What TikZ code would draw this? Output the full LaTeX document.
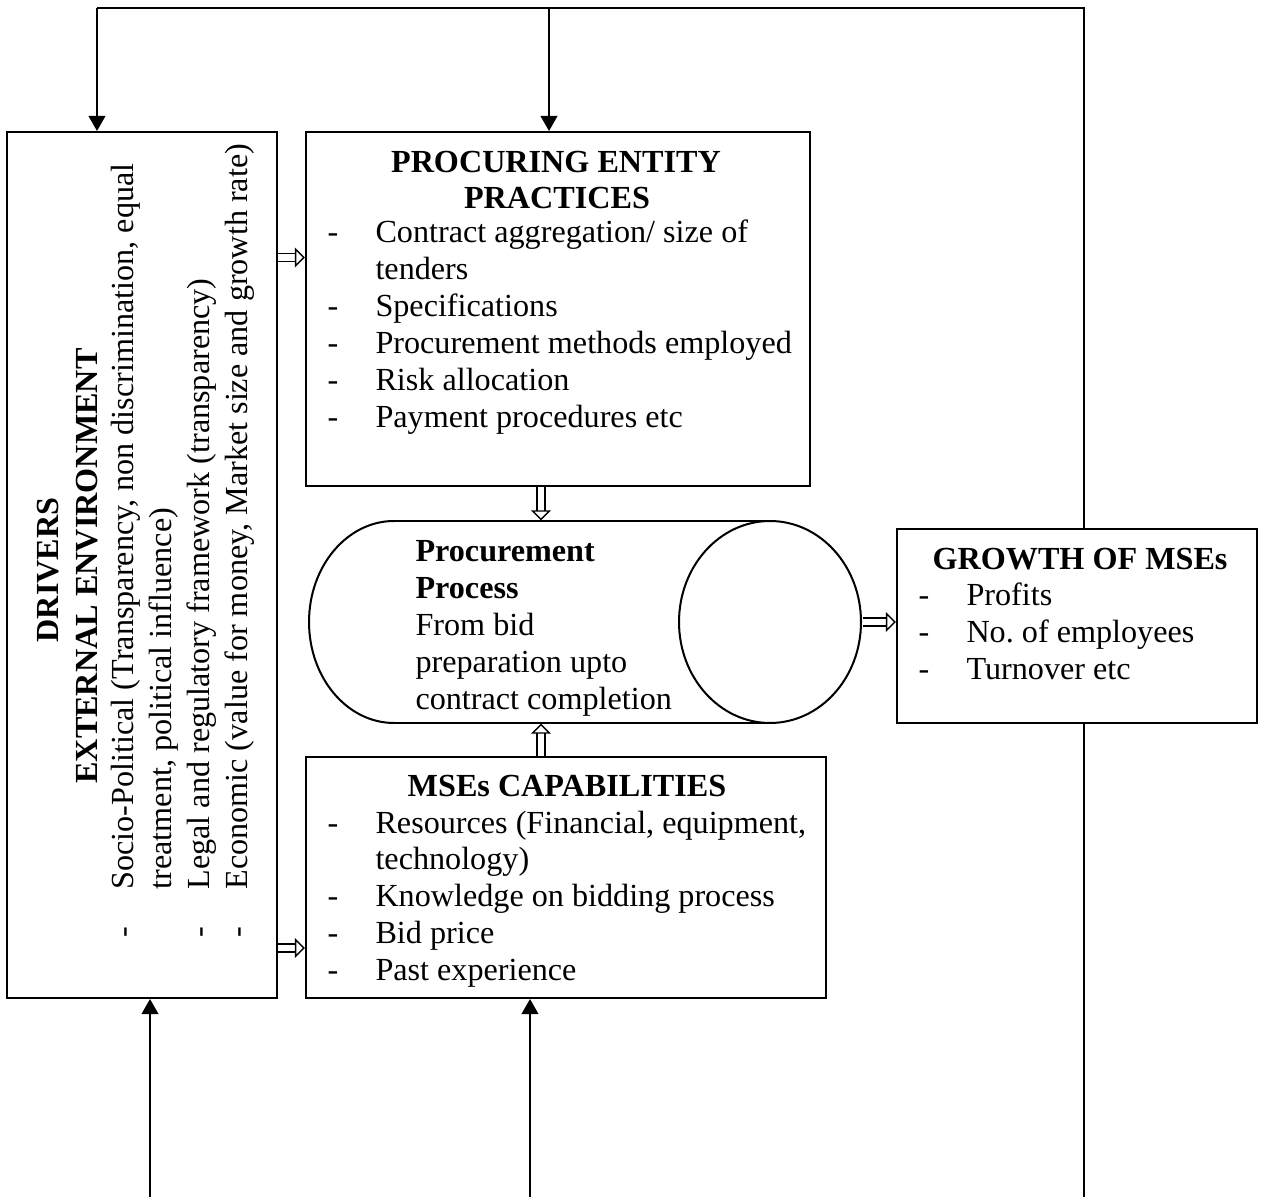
\documentclass[tikz,border=0pt]{standalone}
\usepackage{fontspec}
\setmainfont{Liberation Serif}
\usetikzlibrary{arrows.meta,fit}
\frenchspacing
\begin{document}
\begin{tikzpicture}[x=0.373pt,y=-0.373pt,
  box/.style={draw,line width=0.75pt,inner sep=0pt},
  body/.style={inner sep=0pt,font=\fontsize{12}{13.8}\selectfont},
  head/.style={inner sep=0pt,font=\fontsize{12}{13.8}\selectfont\bfseries},
  ln/.style={line width=0.75pt},
  fb/.style={line width=0.75pt,-{Triangle[length=5.6pt,width=6.2pt]}},
  blk/.style={double,double distance=2.4pt,line width=0.55pt,-{Triangle[open,length=3.8pt,width=7.4pt,line width=0.55pt]}}
]
\useasboundingbox (0,0) rectangle (1264,1197);

% feedback frame
\coordinate (tl) at (97,8);
\coordinate (tm) at (549,8);
\coordinate (tr) at (1084,8);
\coordinate (br) at (1084,1197);
\coordinate (bl) at (150,1197);
\coordinate (bm) at (530,1197);
\draw[ln] (tl) -- (tr) -- (br);

% boxes
\node[box, fit={(7,132)(277,998)}] (drv) {};
\node[box, fit={(306,132)(810,486)}] (pe) {};
\node[box, fit={(306,757)(826,998)}] (mse) {};
\node[box, fill=white, fit={(897,529)(1257,723)}] (gro) {};
\node[inner sep=0pt, fit={(309,521)(862,723)}] (proc) {};

% cylinder (procurement process)
\draw[ln] (394,521) -- (770,521) (394,723) -- (770,723);
\draw[ln] (394,521) arc[start angle=90,end angle=270,x radius=31.7pt,y radius=37.67pt];
\draw[ln] (770,622) ellipse[x radius=33.94pt,y radius=37.67pt];

% feedback arrows
\draw[fb] (tl) -- (tl |- drv.north);
\draw[fb] (tm) -- (tm |- pe.north);
\draw[fb] (bl) -- (bl |- drv.south);
\draw[fb] (bm) -- (bm |- mse.south);

% block arrows
\coordinate (r1) at (0,257.5);
\coordinate (r2) at (0,948);
\coordinate (r3) at (0,622);
\coordinate (c1) at (541,0);
\draw[blk] (drv.east |- r1) -- (pe.west |- r1);
\draw[blk] (drv.east |- r2) -- (mse.west |- r2);
\draw[blk] (c1 |- pe.south) -- (c1 |- proc.north);
\draw[blk] (c1 |- mse.north) -- (c1 |- proc.south);
\draw[blk] (proc.east |- r3) -- (gro.west |- r3);

% procuring entity
\node[head,anchor=base] (peh1) at (556,173) {PROCURING ENTITY};
\node[head,anchor=base] (peh2) at (557,209) {PRACTICES};
\node[body,anchor=base west] (pel) at (327,243) {\begin{tabular}[t]{@{}p{17.9pt}@{}l@{}}
-&Contract aggregation/ size of\\
&tenders\\
-&Specifications\\
-&Procurement methods employed\\
-&Risk allocation\\
-&Payment procedures etc\end{tabular}};

% MSE capabilities
\node[head,anchor=base] (mseh) at (567,796) {MSEs CAPABILITIES};
\node[body,anchor=base west] (msel) at (327,833) {\begin{tabular}[t]{@{}p{17.9pt}@{}l@{}}
-&Resources (Financial, equipment,\\
&technology)\\
-&Knowledge on bidding process\\
-&Bid price\\
-&Past experience\end{tabular}};

% growth
\node[head,anchor=base west] (groh) at (932,570) {GROWTH OF MSEs};
\node[body,anchor=base west] (grol) at (918,606) {\begin{tabular}[t]{@{}p{17.9pt}@{}l@{}}
-&Profits\\
-&No. of employees\\
-&Turnover etc\end{tabular}};

% process text
\node[body,anchor=base west] (proct) at (415,562) {\begin{tabular}[t]{@{}l@{}}
\textbf{Procurement}\\
\textbf{Process}\\
From bid\\
preparation upto\\
contract completion\end{tabular}};

% drivers (rotated)
\node[head,anchor=base,rotate=90] (drh1) at (58,570) {DRIVERS};
\node[head,anchor=base,rotate=90] (drh2) at (97,566) {EXTERNAL ENVIRONMENT};
\node[inner sep=0pt,font=\fontsize{12}{14.2}\selectfont,anchor=base west,rotate=90] (drl) at (133,938) {\begin{tabular}[t]{@{}p{17.9pt}@{}l@{}}
-&Socio-Political (Transparency, non discrimination, equal\\
&treatment, political influence)\\
-&Legal and regulatory framework (transparency)\\
-&Economic (value for money, Market size and growth rate)\end{tabular}};
\end{tikzpicture}
\end{document}
